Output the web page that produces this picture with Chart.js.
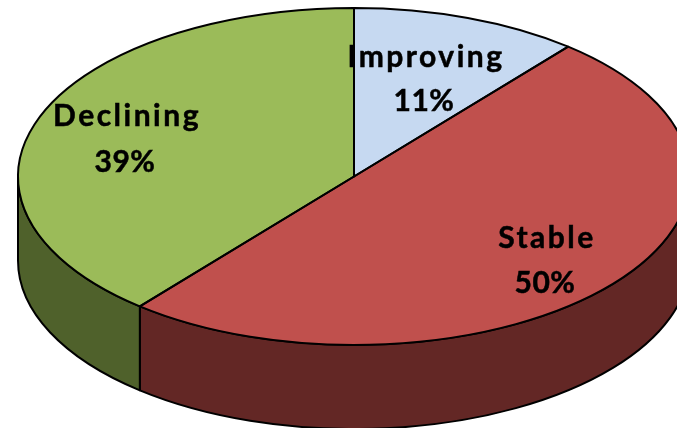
<!DOCTYPE html>
<html>
<head>
<meta charset="utf-8">
<style>
  html, body { margin: 0; padding: 0; background: #fff; overflow: hidden; }
  #wrap { width: 677px; height: 428px; position: relative; }
</style>
<script src="https://cdn.jsdelivr.net/npm/chart.js@4"></script>
</head>
<body>
<div id="wrap"><canvas id="pie"></canvas></div>
<script>
const categories = ['Improving', 'Stable', 'Declining'];
const shares = [11, 50, 39];

const topColors = ['#c6d9f1', '#c0504d', '#9bbb59'];
const wallColors = ['#8f9cb0', '#632725', '#4f612b'];

// the ellipse of the top face, and how far the wall drops below it
const centerX = 354, centerY = 176.5, radiusX = 336, radiusY = 168.5, depth = 84;

// label centres, first line baseline and second line baseline
const labelSpots = [
  { x: 426, y1: 67, y2: 111 },
  { x: 547, y1: 248, y2: 293 },
  { x: 127, y1: 126, y2: 172 }
];

function strokeStyle(ctx) {
  ctx.strokeStyle = '#000';
  ctx.lineWidth = 2;
  ctx.lineJoin = 'round';
}

const tiltedPie = {
  id: 'tiltedPie',
  beforeDatasetsDraw(chart) {
    const ctx = chart.ctx;
    const arcs = chart.getDatasetMeta(0).data;

    // side wall, only the front half of the pie shows it
    arcs.forEach(function (arc, i) {
      const from = Math.max(arc.startAngle, 0);
      const to = Math.min(arc.endAngle, Math.PI);
      if (to <= from) return;
      ctx.save();
      ctx.beginPath();
      ctx.ellipse(centerX, centerY, radiusX, radiusY, 0, from, to);
      ctx.ellipse(centerX, centerY + depth, radiusX, radiusY, 0, to, from, true);
      ctx.closePath();
      ctx.fillStyle = wallColors[i];
      ctx.fill();
      strokeStyle(ctx);
      ctx.stroke();
      ctx.restore();
    });

    // chart.js draws the round pie, squashed into the ellipse
    const first = arcs[0];
    ctx.save();
    ctx.translate(centerX, centerY);
    ctx.scale(radiusX / first.outerRadius, radiusY / first.outerRadius);
    ctx.translate(-first.x, -first.y);
  },
  afterDatasetsDraw(chart) {
    const ctx = chart.ctx;
    const arcs = chart.getDatasetMeta(0).data;
    ctx.restore();

    // outlines done here so the line width stays even
    arcs.forEach(function (arc) {
      ctx.save();
      ctx.beginPath();
      ctx.moveTo(centerX, centerY);
      ctx.ellipse(centerX, centerY, radiusX, radiusY, 0, arc.startAngle, arc.endAngle);
      ctx.closePath();
      strokeStyle(ctx);
      ctx.stroke();
      ctx.restore();
    });

    ctx.save();
    ctx.fillStyle = '#000';
    ctx.strokeStyle = '#000';
    ctx.lineWidth = 0.5; // the reference text is a bit heavier than Lato bold
    ctx.textAlign = 'center';
    ctx.textBaseline = 'alphabetic';
    ctx.font = 'bold 30px Lato, "Open Sans", sans-serif';
    categories.forEach(function (name, i) {
      const spot = labelSpots[i];
      ctx.letterSpacing = '2.5px';
      ctx.fillText(name, spot.x, spot.y1);
      ctx.strokeText(name, spot.x, spot.y1);
      ctx.letterSpacing = '0.5px';
      ctx.fillText(shares[i] + '%', spot.x - 2, spot.y2);
      ctx.strokeText(shares[i] + '%', spot.x - 2, spot.y2);
    });
    ctx.restore();
  }
};

new Chart(document.getElementById('pie'), {
  type: 'pie',
  data: {
    labels: categories,
    datasets: [{
      data: shares,
      backgroundColor: topColors,
      borderWidth: 0,
      clip: false
    }]
  },
  options: {
    responsive: true,
    maintainAspectRatio: false,
    animation: false,
    layout: { padding: 0 },
    plugins: {
      legend: { display: false },
      tooltip: { enabled: false }
    }
  },
  plugins: [tiltedPie]
});
</script>
</body>
</html>
